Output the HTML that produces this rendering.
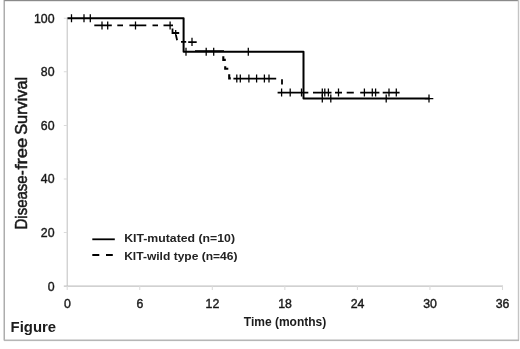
<!DOCTYPE html>
<html>
<head>
<meta charset="utf-8">
<title>Figure</title>
<style>
html,body{margin:0;padding:0;background:#fff;}
body{width:520px;height:349px;overflow:hidden;position:relative;font-family:"Liberation Sans",sans-serif;}
svg{position:absolute;left:0;top:0;display:block;}
text{font-family:"Liberation Sans",sans-serif;fill:#1a1a1a;}
.tick{font-size:12.3px;stroke:#1a1a1a;stroke-width:0.4px;}
.leg{font-size:10.7px;font-weight:bold;fill:#222;}
</style>
</head>
<body>
<svg width="520" height="349" viewBox="0 0 520 349">
  <defs><filter id="soft" x="0" y="0" width="520" height="349" filterUnits="userSpaceOnUse"><feGaussianBlur stdDeviation="0.4"/></filter></defs>
  <rect x="0" y="0" width="520" height="349" fill="#ffffff"/>
  <g filter="url(#soft)">
  <!-- frame -->
  <rect x="4" y="0" width="515" height="1.2" fill="#8a8a8a"/>
  <rect x="3.6" y="0" width="1.2" height="340.5" fill="#9a9a9a"/>
  <rect x="517.8" y="0" width="1.4" height="340.5" fill="#c4c4c4"/>
  <rect x="4" y="339.5" width="515" height="1.6" fill="#b6b6b6"/>

  <!-- axes -->
  <g stroke="#c2c2c2" stroke-width="1.05" fill="none">
    <path d="M67.2,17.6 V286.1"/>
    <path d="M63.8,286.1 H503"/>
    <path stroke="#dadada" d="M63.8,18.2 H67.2 M63.8,71.8 H67.2 M63.8,125.4 H67.2 M63.8,179 H67.2 M63.8,232.5 H67.2"/>
    <path stroke="#dadada" d="M67.2,286.1 V290 M139.75,286.1 V290 M212.3,286.1 V290 M284.85,286.1 V290 M357.4,286.1 V290 M429.95,286.1 V290 M502.5,286.1 V290"/>
  </g>

  <!-- y tick labels -->
  <g class="tick" text-anchor="end">
    <text x="54.5" y="22.5">100</text>
    <text x="54.5" y="76.1">80</text>
    <text x="54.5" y="129.7">60</text>
    <text x="54.5" y="183.3">40</text>
    <text x="54.5" y="236.9">20</text>
    <text x="54.5" y="290.5">0</text>
  </g>
  <!-- x tick labels -->
  <g class="tick" text-anchor="middle">
    <text x="67.3" y="308">0</text>
    <text x="139.8" y="308">6</text>
    <text x="212.4" y="308">12</text>
    <text x="285.0" y="308">18</text>
    <text x="357.5" y="308">24</text>
    <text x="430.0" y="308">30</text>
    <text x="502.5" y="308">36</text>
  </g>

  <!-- axis titles -->
  <g font-size="15.6px" stroke="#1a1a1a" stroke-width="0.5">
    <text transform="translate(27.3,229.5) rotate(-90)" textLength="59.2" lengthAdjust="spacingAndGlyphs">Disease-</text>
    <text transform="translate(27.3,169.6) rotate(-90)" textLength="31.8" lengthAdjust="spacingAndGlyphs">free</text>
    <text transform="translate(27.3,134.8) rotate(-90)" textLength="58" lengthAdjust="spacingAndGlyphs">Survival</text>
  </g>
  <text x="243.8" y="326.2" font-size="12px" font-weight="bold" textLength="82.5" lengthAdjust="spacingAndGlyphs">Time (months)</text>
  <text x="10.6" y="332.3" font-size="14px" font-weight="bold" textLength="45.5" lengthAdjust="spacingAndGlyphs">Figure</text>

  <!-- dashed curve (KIT-wild type) -->
  <path d="M94.3,25.4 H111.8 M117.3,25.4 H123 M129.4,25.4 H146.3 M152.5,25.4 H158 M163.5,25.4 H173 M172.5,28.5 V33 H179.2 M175.9,35 L177.1,40.2 M181,41.9 H186.2 M188.2,42.1 H196.7 M195,51.2 H224 M233.4,78.6 H276.2 M282,79.2 V84.4 M277.6,92.6 H308.3 M313,92.6 H331.5 M335,92.6 H342 M346.7,92.6 H353.8 M360.2,92.6 H379.4 M382.7,92.6 H399.6" fill="none" stroke="#000" stroke-width="1.8"/>
  <path d="M223.3,56.3 V59.9 H225.8 M225.2,66.3 V68.8 H228.3 M229.2,74.3 V78.4 H230.8" fill="none" stroke="#000" stroke-width="2.1"/>
  <!-- solid curve (KIT-mutated) -->
  <path d="M67.5,18.2 H183.6 V51.7 H303.5 V98.6 H429.5" fill="none" stroke="#000" stroke-width="2.0" stroke-linejoin="round"/>

  <!-- censor marks -->
  <g stroke="#000" stroke-width="1.28" fill="none">
    <path d="M71.5,14.2 V22.2 M84.0,14.2 V22.2 M90.3,14.2 V22.2 M186.0,47.7 V55.7 M248.3,47.7 V55.7 M322.3,94.6 V102.6 M330.8,94.6 V102.6 M386.2,94.6 V102.6 M429.0,94.6 V102.6 M424.7,98.6 H433.3"/>
    <path d="M102.0,21.4 V29.4 M107.7,21.4 V29.4 M135.5,21.4 V29.4 M170.1,21.4 V29.4 M175.7,30 V35.4 M192,37.8 V46 M206.2,47.7 V55.7 M213.7,47.7 V55.7 M236.8,74.6 V82.6 M240.3,74.6 V82.6 M248.9,74.6 V82.6 M256.6,74.6 V82.6 M264.4,74.6 V82.6 M269.0,74.6 V82.6 M281.6,88.6 V96.6 M290.2,88.6 V96.6 M301.5,88.6 V96.6 M322.3,88.6 V96.6 M324.8,88.6 V96.6 M328.4,88.6 V96.6 M338.5,88.6 V96.6 M364.4,88.6 V96.6 M372.3,88.6 V96.6 M375.6,88.6 V96.6 M389.0,88.6 V96.6 M396.3,88.6 V96.6"/>
  </g>

  <!-- legend -->
  <path d="M92.3,239.3 H114.8" stroke="#000" stroke-width="1.8" fill="none"/>
  <path d="M92.3,255 H99.3 M106,255 H112.8" stroke="#000" stroke-width="1.8" fill="none"/>
  <text class="leg" x="124.2" y="241.5" textLength="110.8" lengthAdjust="spacingAndGlyphs">KIT-mutated (n=10)</text>
  <text class="leg" x="124.2" y="259.5" textLength="113.3" lengthAdjust="spacingAndGlyphs">KIT-wild type (n=46)</text>
  </g>
</svg>
</body>
</html>
